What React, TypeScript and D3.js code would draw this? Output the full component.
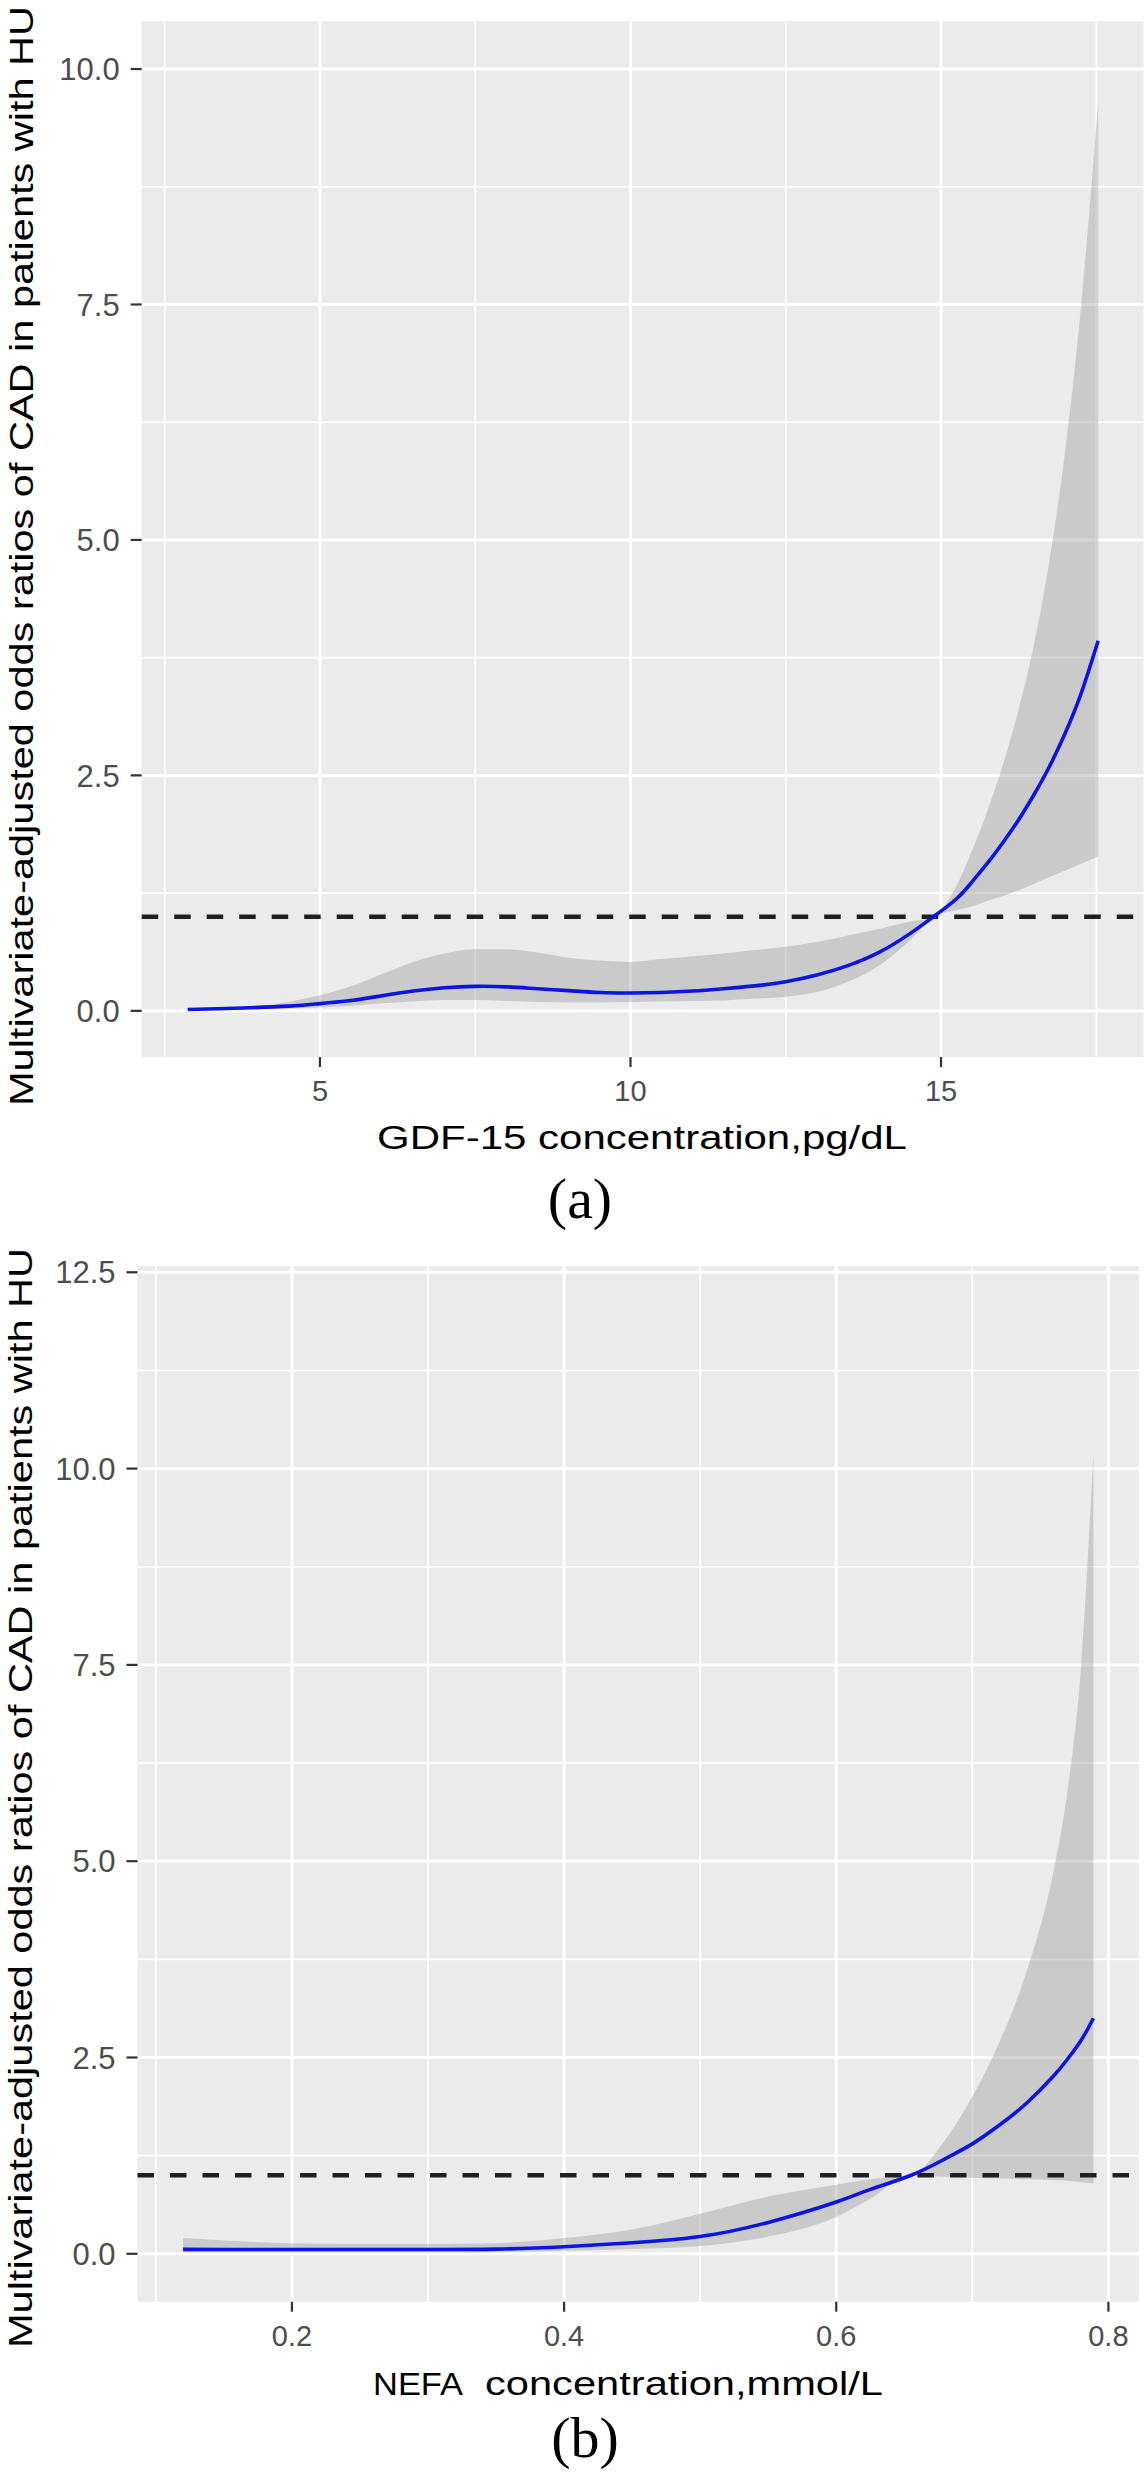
import React from "react";
import * as d3 from "d3";

// panel (a): GDF-15, fitted odds ratio with its confidence band
const gdfX = [2.87, 3.5, 4.5, 5, 5.5, 6, 6.5, 7, 7.5, 8, 8.5, 9, 9.5, 10, 10.5, 11, 11.5, 12, 12.5, 13, 13.5, 14, 14.5, 14.88, 15.25, 15.5, 15.75, 16, 16.25, 16.5, 16.75, 17, 17.25, 17.53];
const gdfFit = [0.014, 0.025, 0.05, 0.077, 0.11, 0.16, 0.21, 0.245, 0.26, 0.255, 0.235, 0.215, 0.195, 0.19, 0.195, 0.21, 0.235, 0.265, 0.31, 0.38, 0.48, 0.62, 0.82, 1.0, 1.19, 1.37, 1.57, 1.79, 2.03, 2.3, 2.6, 2.95, 3.36, 3.93];
const gdfLower = [0.008, 0.012, 0.025, 0.035, 0.055, 0.08, 0.1, 0.115, 0.115, 0.105, 0.095, 0.09, 0.09, 0.095, 0.1, 0.105, 0.11, 0.13, 0.15, 0.2, 0.31, 0.48, 0.75, 1.0, 1.07, 1.11, 1.17, 1.22, 1.28, 1.35, 1.42, 1.49, 1.56, 1.64];
const gdfUpper = [0.02, 0.035, 0.095, 0.165, 0.26, 0.39, 0.52, 0.61, 0.655, 0.655, 0.62, 0.565, 0.535, 0.52, 0.55, 0.58, 0.61, 0.645, 0.68, 0.73, 0.8, 0.87, 0.95, 1.0, 1.33, 1.7, 2.13, 2.62, 3.2, 3.9, 4.8, 5.95, 7.45, 9.65];
const gdfXTicks = [5, 10, 15];
const gdfYTicks = [0, 2.5, 5, 7.5, 10];

// panel (b): NEFA
const nefaX = [0.12, 0.15, 0.2, 0.25, 0.3, 0.35, 0.4, 0.45, 0.5, 0.55, 0.6, 0.625, 0.655, 0.68, 0.7, 0.72, 0.74, 0.76, 0.77, 0.78, 0.789];
const nefaFit = [0.056, 0.055, 0.054, 0.054, 0.055, 0.06, 0.09, 0.14, 0.22, 0.4, 0.66, 0.82, 1.0, 1.21, 1.4, 1.64, 1.92, 2.27, 2.48, 2.72, 3.0];
const nefaLower = [0.015, 0.015, 0.015, 0.015, 0.015, 0.02, 0.04, 0.06, 0.1, 0.22, 0.47, 0.7, 1.0, 0.98, 0.97, 0.96, 0.95, 0.94, 0.93, 0.91, 0.9];
const nefaUpper = [0.2, 0.17, 0.135, 0.125, 0.125, 0.135, 0.2, 0.31, 0.51, 0.73, 0.88, 0.95, 1.0, 1.45, 2.0, 2.7, 3.6, 4.9, 5.9, 7.5, 10.2];
const nefaXTicks = [0.2, 0.4, 0.6, 0.8];
const nefaYTicks = [0, 2.5, 5, 7.5, 10, 12.5];

const refOR = 1;

const SANS = "'Liberation Sans', Arial, Helvetica, sans-serif";
const SERIF = "'Liberation Serif', 'Times New Roman', serif";

function minorBreaks(major, domain) {
  const step = major[1] - major[0];
  const out = [];
  for (let i = -1; i < major.length; i++) {
    const v = major[0] + step * (i + 0.5);
    if (v > domain[0] && v < domain[1]) out.push(v);
  }
  return out;
}

function Panel({ xs, fit, lower, upper, xTicks, yTicks, xDomain, yDomain, left, right, top, bottom, xFmt }) {
  const x = d3.scaleLinear().domain(xDomain).range([left, right]);
  const y = d3.scaleLinear().domain(yDomain).range([bottom, top]);
  const rows = xs.map((d, i) => ({ x: d, fit: fit[i], lo: lower[i], hi: upper[i] }));

  const band = d3
    .area()
    .x((d) => x(d.x))
    .y0((d) => y(d.lo))
    .y1((d) => y(d.hi))
    .curve(d3.curveMonotoneX);
  // natural spline keeps the fitted curve free of kinks
  const curve = d3
    .line()
    .x((d) => x(d.x))
    .y((d) => y(d.fit))
    .curve(d3.curveNatural);
  const fmtY = d3.format(".1f");

  return (
    <g>
      <rect x={left} y={top} width={right - left} height={bottom - top} fill="#EBEBEB" />
      {minorBreaks(yTicks, yDomain).map((v) => (
        <line key={"ym" + v} x1={left} x2={right} y1={y(v)} y2={y(v)} stroke="#fff" strokeWidth={1.6} />
      ))}
      {minorBreaks(xTicks, xDomain).map((v) => (
        <line key={"xm" + v} x1={x(v)} x2={x(v)} y1={top} y2={bottom} stroke="#fff" strokeWidth={1.6} />
      ))}
      {yTicks.map((v) => (
        <line key={"yg" + v} x1={left} x2={right} y1={y(v)} y2={y(v)} stroke="#fff" strokeWidth={3} />
      ))}
      {xTicks.map((v) => (
        <line key={"xg" + v} x1={x(v)} x2={x(v)} y1={top} y2={bottom} stroke="#fff" strokeWidth={3} />
      ))}

      <path d={band(rows)} fill="#999999" fillOpacity={0.4} />
      <line
        x1={left}
        x2={right}
        y1={y(refOR)}
        y2={y(refOR)}
        stroke="#1f1f1f"
        strokeWidth={4.5}
        strokeDasharray="16.5 16"
      />
      <path d={curve(rows)} fill="none" stroke="#0A14E6" strokeWidth={3.6} />

      {yTicks.map((v) => (
        <g key={"yt" + v}>
          <line x1={left - 11} x2={left} y1={y(v)} y2={y(v)} stroke="#333" strokeWidth={2.2} />
          <text
            x={left - 22}
            y={y(v)}
            dy="0.36em"
            textAnchor="end"
            fontFamily={SANS}
            fontSize={31}
            fill="#4D4D4D"
          >
            {fmtY(v)}
          </text>
        </g>
      ))}
      {xTicks.map((v) => (
        <g key={"xt" + v}>
          <line x1={x(v)} x2={x(v)} y1={bottom} y2={bottom + 10} stroke="#333" strokeWidth={2.2} />
          <text x={x(v)} y={bottom + 44} textAnchor="middle" fontFamily={SANS} fontSize={29} fill="#4D4D4D">
            {xFmt(v)}
          </text>
        </g>
      ))}
    </g>
  );
}

const yTitle = "Multivariate-adjusted odds ratios of CAD in patients with HU";

export default function App() {
  return (
    <svg
      width={1144}
      height={2480}
      style={{ position: "absolute", left: 0, top: 0, background: "#fff" }}
    >
      <Panel
        xs={gdfX}
        fit={gdfFit}
        lower={gdfLower}
        upper={gdfUpper}
        xTicks={gdfXTicks}
        yTicks={gdfYTicks}
        xDomain={[2.13, 18.26]}
        yDomain={[-0.49, 10.51]}
        left={141.7}
        right={1143.5}
        top={21}
        bottom={1057}
        xFmt={d3.format("d")}
      />
      <text
        transform="translate(33,556) rotate(-90)"
        textAnchor="middle"
        fontFamily={SANS}
        fontSize={34}
        textLength={1100}
        lengthAdjust="spacingAndGlyphs"
      >
        {yTitle}
      </text>
      <text x={642} y={1149} textAnchor="middle" fontFamily={SANS} fontSize={34} textLength={530} lengthAdjust="spacingAndGlyphs">
        GDF-15 concentration,pg/dL
      </text>
      <text x={580} y={1218} textAnchor="middle" fontFamily={SERIF} fontSize={58}>
        (a)
      </text>

      <Panel
        xs={nefaX}
        fit={nefaFit}
        lower={nefaLower}
        upper={nefaUpper}
        xTicks={nefaXTicks}
        yTicks={nefaYTicks}
        xDomain={[0.0865, 0.8225]}
        yDomain={[-0.61, 12.58]}
        left={137.5}
        right={1139}
        top={1266}
        bottom={2301.7}
        xFmt={d3.format(".1f")}
      />
      <text
        transform="translate(32,1798) rotate(-90)"
        textAnchor="middle"
        fontFamily={SANS}
        fontSize={34}
        textLength={1100}
        lengthAdjust="spacingAndGlyphs"
      >
        {yTitle}
      </text>
      <text x={373} y={2395} fontFamily={SANS} fontSize={31} textLength={90} lengthAdjust="spacingAndGlyphs">
        NEFA
      </text>
      <text x={485} y={2395} fontFamily={SANS} fontSize={33} textLength={398} lengthAdjust="spacingAndGlyphs">
        concentration,mmol/L
      </text>
      <text x={585} y={2457} textAnchor="middle" fontFamily={SERIF} fontSize={58}>
        (b)
      </text>
    </svg>
  );
}
